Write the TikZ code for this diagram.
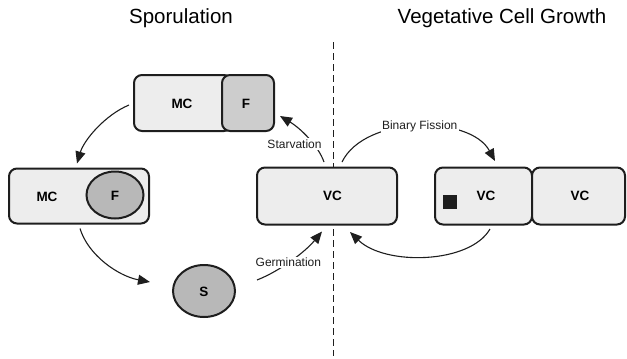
\documentclass[tikz,border=0pt]{standalone}
\usepackage{fontspec}
\setmainfont{Liberation Sans}
\usetikzlibrary{arrows.meta,shapes.geometric}
\definecolor{boxfill}{HTML}{EDEDED}
\definecolor{ffill}{HTML}{CDCDCD}
\definecolor{ellfill}{HTML}{B8B8B8}
\definecolor{edge}{HTML}{1E1E1E}
\tikzset{
  cell/.style={draw=edge, fill=boxfill, line width=2pt, rounded corners=8pt,
    inner sep=0pt, anchor=center},
  fcell/.style={cell, fill=ffill},
  oval/.style={ellipse, draw=edge, fill=ellfill, line width=2pt, inner sep=0pt},
  lbl/.style={font=\fontsize{13.5}{15}\selectfont\bfseries, inner sep=0pt},
  arr/.style={draw=edge, line width=1.1pt, -{Triangle[length=12pt,width=10pt]}},
  tag/.style={font=\fontsize{12}{14}\selectfont, fill=white, inner sep=1.5pt, text=edge},
  title/.style={font=\fontsize{20.5}{23}\selectfont, inner sep=0pt},
}
\begin{document}
\begin{tikzpicture}[x=1pt,y=-1pt]
\useasboundingbox (0,0) rectangle (627,359);
% titles
\node[title] (t1) at (181,18) {Sporulation};
\node[title] (t2) at (502,18) {Vegetative Cell Growth};
% dashed divider
\coordinate (d1) at (333,42);
\coordinate (d2) at (333,356);
\draw[edge, line width=1pt, dash pattern=on 7pt off 4pt] (d1) -- (d2);
% top box MC | F
\node[cell, minimum width=98pt, minimum height=56pt] (mc1) at (183,103) {};
\node[fcell, minimum width=52pt, minimum height=56pt] (f1) at (248,103) {};
\node[lbl] (mc1t) at (182,104) {MC};
\node[lbl] (f1t) at (246,104) {F};
% left box MC with F ellipse
\node[cell, minimum width=140pt, minimum height=55pt] (mc2) at (79,196) {};
\node[oval, minimum width=57pt, minimum height=47pt] (f2) at (115,195) {};
\node[lbl] (mc2t) at (47,197) {MC};
\node[lbl] (f2t) at (115,196) {F};
% spore
\node[oval, minimum width=62pt, minimum height=52pt] (s) at (204,291) {};
\node[lbl] (st) at (204,292) {S};
% central VC
\node[cell, minimum width=140pt, minimum height=57pt] (vc) at (327,196) {};
\node[lbl] (vct) at (332.5,196) {VC};
% dividing cells
\node[cell, minimum width=97pt, minimum height=57pt] (vc2) at (483.5,196) {};
\node[cell, minimum width=93pt, minimum height=57pt] (vc3) at (578.5,196) {};
\node[lbl] (vc2t) at (486,196) {VC};
\node[lbl] (vc3t) at (580,196) {VC};
\node[fill=edge, minimum size=14pt, inner sep=0pt] (sq) at (450,202) {};
% arrows
\draw[arr] ([xshift=-4pt,yshift=-2pt]mc1.west) .. controls (105,115) and (84,140) .. ([xshift=-2pt,yshift=4pt]mc2.north);
\draw[arr] ([xshift=1pt,yshift=-4pt]mc2.south) .. controls (88,255) and (118,276) .. ([xshift=-54pt,yshift=9pt]s.center);
\draw[arr] ([xshift=53pt,yshift=11pt]s.center) .. controls (280,271) and (305,252) .. ([xshift=-5pt,yshift=-6pt]vc.south)
  node[tag, pos=0.45] (germ) {Germination};
\draw[arr] ([xshift=-3pt,yshift=4.5pt]vc.north) .. controls (318,145) and (300,128) .. ([xshift=5pt,yshift=16pt]f1.south east)
  node[tag, pos=0.38, xshift=-18pt, yshift=-1pt] (starv) {Starvation};
\draw[arr] ([xshift=15pt,yshift=4.5pt]vc.north) .. controls (365,115) and (470,115) .. ([xshift=11.5pt,yshift=5.5pt]vc2.north)
  node[tag, pos=0.5, xshift=2pt] (bf) {Binary Fission};
\draw[arr] ([xshift=6.5pt,yshift=-3.5pt]vc2.south) .. controls (470,264) and (385,266) .. ([xshift=23pt,yshift=-6.5pt]vc.south);
\end{tikzpicture}
\end{document}
